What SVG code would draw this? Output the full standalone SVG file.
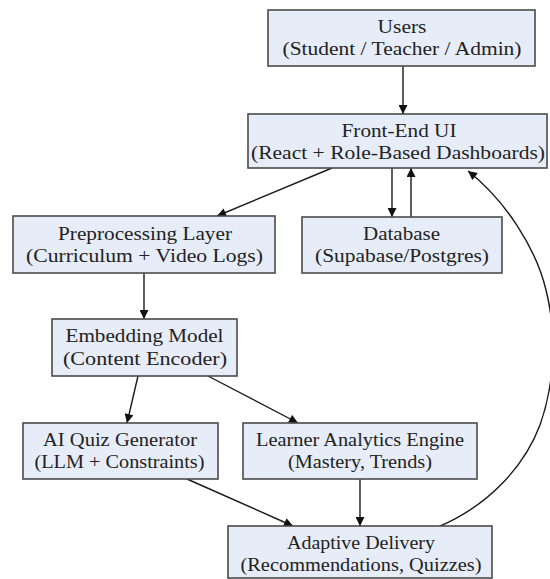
<svg xmlns="http://www.w3.org/2000/svg" width="550" height="579" viewBox="0 0 550 579">
<style>
.box{fill:#e7edf8;stroke:#4a4a4a;stroke-width:1.6}
.t{font-family:'Liberation Serif','Times New Roman','DejaVu Serif',serif;font-size:19px;fill:#222;text-anchor:middle}
.e{fill:none;stroke:#1a1a1a;stroke-width:1.4}
</style>
<defs>
<marker id="ah" viewBox="0 0 10 10" refX="10" refY="5" markerWidth="10" markerHeight="9" markerUnits="userSpaceOnUse" orient="auto">
<path d="M0,0 L10,5 L0,10 z" fill="#111"/>
</marker>
</defs>
<rect width="550" height="579" fill="#fff"/>
<g id="edges">
<path class="e" marker-end="url(#ah)" d="M403,66 L403,114"/>
<path class="e" marker-end="url(#ah)" d="M332,168 L217,216"/>
<path class="e" marker-end="url(#ah)" d="M392,168 L392,217"/>
<path class="e" marker-end="url(#ah)" d="M411,217 L411,168"/>
<path class="e" marker-end="url(#ah)" d="M144,273 L144,319"/>
<path class="e" marker-end="url(#ah)" d="M138,376 L127,423"/>
<path class="e" marker-end="url(#ah)" d="M208,376 L298,423"/>
<path class="e" marker-end="url(#ah)" d="M187,479 L293,526"/>
<path class="e" marker-end="url(#ah)" d="M360,479 L360,526"/>
<path class="e" marker-end="url(#ah)" d="M438,527 C490,505 525,465 540,425 C556,380 556,330 546,290 C536,248 505,200 468,171"/>
</g>
<g class="t" font-family="Liberation Serif, Times New Roman, DejaVu Serif, serif">
<g id="users"><rect class="box" x="268" y="10" width="267" height="56"/>
<text x="402" y="33" textLength="49" lengthAdjust="spacingAndGlyphs">Users</text>
<text x="402" y="55" textLength="239" lengthAdjust="spacingAndGlyphs">(Student / Teacher / Admin)</text></g>
<g id="frontend"><rect class="box" x="248" y="114" width="299" height="54"/>
<text x="399" y="137" textLength="115" lengthAdjust="spacingAndGlyphs">Front-End UI</text>
<text x="398" y="159" textLength="294" lengthAdjust="spacingAndGlyphs">(React + Role-Based Dashboards)</text></g>
<g id="preprocessing"><rect class="box" x="13" y="216" width="262" height="57"/>
<text x="145" y="240" textLength="174" lengthAdjust="spacingAndGlyphs">Preprocessing Layer</text>
<text x="144.5" y="262" textLength="237" lengthAdjust="spacingAndGlyphs">(Curriculum + Video Logs)</text></g>
<g id="database"><rect class="box" x="302" y="217" width="200" height="56"/>
<text x="401.5" y="240" textLength="77" lengthAdjust="spacingAndGlyphs">Database</text>
<text x="402" y="262" textLength="174" lengthAdjust="spacingAndGlyphs">(Supabase/Postgres)</text></g>
<g id="embedding"><rect class="box" x="52" y="319" width="185" height="57"/>
<text x="144.5" y="342" textLength="158" lengthAdjust="spacingAndGlyphs">Embedding Model</text>
<text x="145" y="365" textLength="164" lengthAdjust="spacingAndGlyphs">(Content Encoder)</text></g>
<g id="quiz"><rect class="box" x="23" y="423" width="195" height="56"/>
<text x="120" y="446" textLength="154" lengthAdjust="spacingAndGlyphs">AI Quiz Generator</text>
<text x="119.5" y="468" textLength="170" lengthAdjust="spacingAndGlyphs">(LLM + Constraints)</text></g>
<g id="analytics"><rect class="box" x="243" y="423" width="234" height="56"/>
<text x="360" y="446" textLength="208" lengthAdjust="spacingAndGlyphs">Learner Analytics Engine</text>
<text x="360" y="468" textLength="144" lengthAdjust="spacingAndGlyphs">(Mastery, Trends)</text></g>
<g id="adaptive"><rect class="box" x="228" y="526" width="264" height="52"/>
<text x="361" y="549" textLength="148" lengthAdjust="spacingAndGlyphs">Adaptive Delivery</text>
<text x="361" y="571" textLength="241" lengthAdjust="spacingAndGlyphs">(Recommendations, Quizzes)</text></g>
</g>
</svg>
